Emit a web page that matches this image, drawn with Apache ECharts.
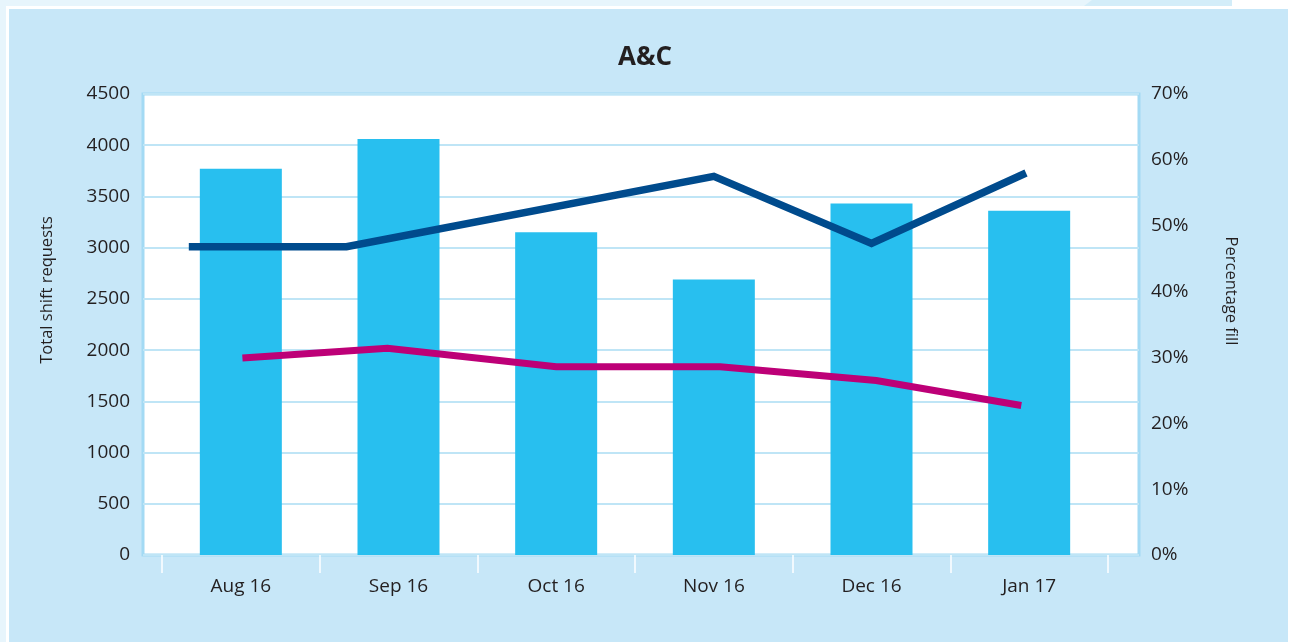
<!DOCTYPE html>
<html>
<head>
<meta charset="utf-8">
<script src="https://cdn.jsdelivr.net/npm/echarts@6/dist/echarts.min.js"></script>
<style>
html, body { margin: 0; padding: 0; background: #ffffff; }
#main { width: 1292px; height: 642px; }
</style>
</head>
<body>
<div id="main"></div>
<script>
var months = ['Aug 16', 'Sep 16', 'Oct 16', 'Nov 16', 'Dec 16', 'Jan 17'];
var requests = [3770, 4060, 3150, 2690, 3430, 3360];
// line points sit a bit off the month centres in the original, x is in month units
var fillX = [0.17, 1.17, 3.5, 4.5, 5.48];
var fillPct = [0.468, 0.468, 0.575, 0.473, 0.580];
var otherX = [0.51, 1.43, 2.50, 3.54, 4.53, 5.45];
var otherPct = [0.299, 0.314, 0.286, 0.286, 0.265, 0.227];
var leftTicks = [0, 4500, 500];
var rightTicks = [0, 0.7, 0.1];

var pair = function(xs, ys) {
	var out = [];
	for (var i = 0; i < xs.length; ++i)
		out.push([xs[i], ys[i]]);
	return out;
};

var txt = '#231f20';
var font = '"Open Sans", "Noto Sans", sans-serif';
var myChart = echarts.init(document.getElementById('main'));

var option = {
	backgroundColor: '#ffffff',
	animation: false,
	textStyle: { fontFamily: font },
	title: {
		text: 'A&C',
		left: 613,
		top: 40,
		textStyle: { color: txt, fontSize: 26, fontWeight: 'bold', fontFamily: font }
	},
	graphic: [
		{ type: 'rect', z: -10, shape: { x: 0, y: 0, width: 1232, height: 6 }, style: { fill: '#e7f5fc' } },
		{ type: 'polygon', z: -9, shape: { points: [[1084, 6], [1092, 0], [1232, 0], [1232, 6]] }, style: { fill: '#d3edf9' } },
		{ type: 'rect', z: -10, shape: { x: 0, y: 0, width: 6, height: 642 }, style: { fill: '#e7f5fc' } },
		{ type: 'rect', z: -8, shape: { x: 9, y: 9, width: 1279, height: 633 }, style: { fill: '#c7e7f8' } },
		{
			type: 'text', x: 47, y: 290, rotation: Math.PI / 2,
			style: { text: 'Total shift requests', fill: txt, font: '16.5px ' + font, align: 'center', verticalAlign: 'middle' }
		},
		{
			type: 'text', x: 1231, y: 291, rotation: -Math.PI / 2,
			style: { text: 'Percentage fill', fill: txt, font: '16.5px ' + font, align: 'center', verticalAlign: 'middle' }
		}
	],
	grid: [
		{ left: 143, width: 996, top: 94, height: 461, show: true, backgroundColor: '#ffffff', borderColor: '#a3daf4', borderWidth: 3 },
		{ left: 162, width: 946, top: 94, height: 461 }
	],
	xAxis: [
		{ type: 'value', gridIndex: 0, show: false, min: 0, max: 1 },
		{
			type: 'category', gridIndex: 1, data: months, boundaryGap: true,
			axisLine: { show: false },
			axisTick: { show: true, length: 18, lineStyle: { color: '#ffffff', width: 1.5 } },
			axisLabel: { color: txt, fontSize: 19, margin: 22, fontFamily: font },
			splitLine: { show: false }
		},
		{ type: 'value', gridIndex: 1, show: false, min: 0, max: 6 }
	],
	yAxis: [
		{
			type: 'value', gridIndex: 0, position: 'left',
			min: leftTicks[0], max: leftTicks[1], interval: leftTicks[2],
			axisLine: { show: false }, axisTick: { show: false },
			axisLabel: {
				color: txt, fontSize: 19, margin: 13, fontFamily: font,
				formatter: function(v) { return String(v); }
			},
			splitLine: { lineStyle: { color: '#bfe5f6', width: 2 } }
		},
		{
			type: 'value', gridIndex: 0, position: 'right',
			min: rightTicks[0], max: rightTicks[1], interval: rightTicks[2],
			axisLine: { show: false }, axisTick: { show: false },
			axisLabel: {
				color: txt, fontSize: 19, margin: 12, fontFamily: font,
				formatter: function(v) { return Math.round(v * 100) + '%'; }
			},
			splitLine: { show: false }
		},
		{ type: 'value', gridIndex: 1, show: false, min: leftTicks[0], max: leftTicks[1] },
		{ type: 'value', gridIndex: 1, show: false, min: rightTicks[0], max: rightTicks[1] }
	],
	series: [
		{
			name: 'Total shift requests', type: 'bar',
			xAxisIndex: 1, yAxisIndex: 2,
			data: requests, barWidth: 82,
			itemStyle: { color: '#28bfef' }
		},
		{
			name: 'Percentage fill', type: 'line',
			xAxisIndex: 2, yAxisIndex: 3,
			data: pair(fillX, fillPct), symbol: 'none', z: 4,
			lineStyle: { color: '#004b8d', width: 7.5, join: 'miter' }
		},
		{
			name: 'Other fill', type: 'line',
			xAxisIndex: 2, yAxisIndex: 3,
			data: pair(otherX, otherPct), symbol: 'none', z: 4,
			lineStyle: { color: '#bd0077', width: 7, join: 'miter' }
		}
	]
};

myChart.setOption(option);
</script>
</body>
</html>
